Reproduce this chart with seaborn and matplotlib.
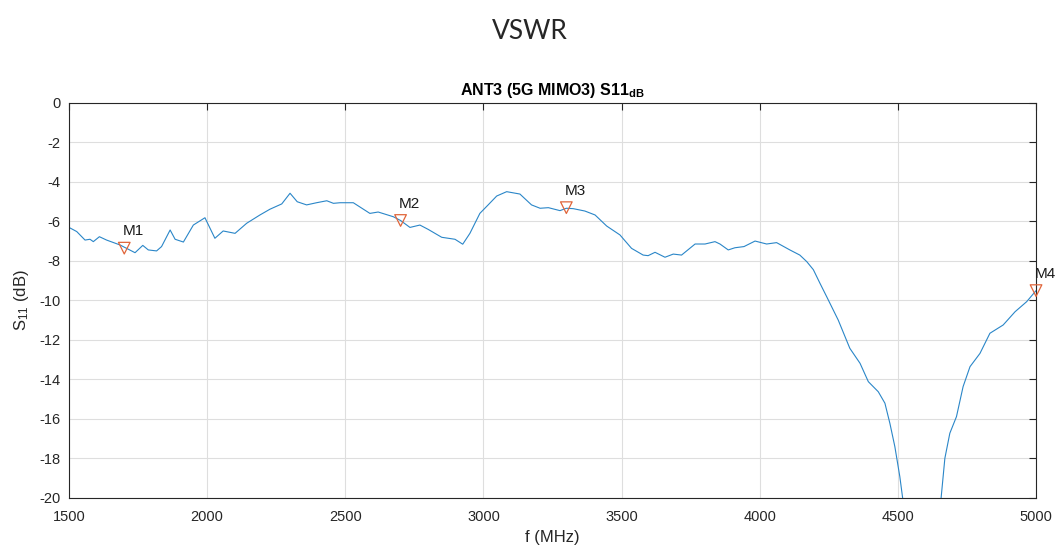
import matplotlib
matplotlib.use("Agg")
import pandas as pd
import seaborn as sns
import matplotlib.pyplot as plt

# S11 trace (MHz, dB)
freq = [1500, 1528, 1558, 1576, 1588, 1610, 1636, 1685, 1700, 1739, 1767, 1787,
        1817, 1835, 1866, 1884, 1914, 1950, 1992, 2028, 2058, 2101, 2143, 2191,
        2227, 2270, 2300, 2326, 2360, 2396, 2433, 2457, 2481, 2529, 2589, 2619,
        2674, 2700, 2734, 2770, 2800, 2849, 2897, 2925, 2951, 2987, 3017, 3048,
        3084, 3132, 3174, 3205, 3235, 3277, 3300, 3325, 3367, 3404, 3446, 3494,
        3536, 3578, 3596, 3621, 3657, 3687, 3717, 3766, 3802, 3838, 3856, 3886,
        3910, 3943, 3983, 4025, 4061, 4109, 4145, 4170, 4194, 4218, 4242, 4284,
        4326, 4363, 4393, 4429, 4453, 4471, 4489, 4507, 4520, 4560, 4590, 4620,
        4655, 4670, 4688, 4712, 4736, 4761, 4797, 4833, 4881, 4924, 4966, 5000]
s11 = [-6.3, -6.51, -6.94, -6.9, -7.02, -6.77, -6.94, -7.19, -7.3, -7.58, -7.21, -7.44,
       -7.49, -7.27, -6.43, -6.9, -7.04, -6.18, -5.81, -6.85, -6.48, -6.6, -6.09, -5.67,
       -5.38, -5.11, -4.57, -5.0, -5.16, -5.05, -4.95, -5.08, -5.05, -5.05, -5.59, -5.52,
       -5.76, -5.95, -6.3, -6.18, -6.4, -6.8, -6.9, -7.15, -6.6, -5.59, -5.16, -4.71,
       -4.49, -4.61, -5.16, -5.33, -5.3, -5.45, -5.33, -5.35, -5.47, -5.67, -6.23, -6.68,
       -7.36, -7.7, -7.73, -7.56, -7.81, -7.65, -7.7, -7.14, -7.14, -7.02, -7.14, -7.44,
       -7.33, -7.27, -6.99, -7.14, -7.07, -7.44, -7.7, -8.03, -8.44, -9.13, -9.8, -10.99,
       -12.42, -13.18, -14.11, -14.62, -15.2, -16.22, -17.4, -18.92, -20.3, -24.0, -27.0, -24.0,
       -20.2, -17.99, -16.72, -15.88, -14.36, -13.35, -12.68, -11.66, -11.24, -10.57, -10.06, -9.5]

marker_names = ["M1", "M2", "M3", "M4"]
marker_freq = [1700, 2700, 3300, 5000]
marker_s11 = [-7.35, -5.95, -5.3, -9.5]

x_ticks = [1500, 2000, 2500, 3000, 3500, 4000, 4500, 5000]
y_ticks = [0, -2, -4, -6, -8, -10, -12, -14, -16, -18, -20]

df = pd.DataFrame({"f": freq, "s11": s11})
markers = pd.DataFrame({"name": marker_names, "f": marker_freq, "s11": marker_s11})

sns.set_style("whitegrid")
plt.rcParams["font.family"] = ["Liberation Sans", "DejaVu Sans"]
plt.rcParams["axes.unicode_minus"] = False
plt.rcParams["mathtext.fontset"] = "custom"
plt.rcParams["mathtext.rm"] = "Liberation Sans"
plt.rcParams["mathtext.it"] = "Liberation Sans:italic"
plt.rcParams["mathtext.bf"] = "Liberation Sans:bold"

fig = plt.figure(figsize=(10.6, 5.49), dpi=100)
ax = fig.add_axes([0.0651, 0.0929, 0.9123, 0.7195])

sns.lineplot(data=df, x="f", y="s11", color="#2a86c8", linewidth=0.8, ax=ax)
sns.scatterplot(data=markers, x="f", y="s11", marker="v", s=70, color="#E0653A",
                facecolors="none", edgecolor="#E0653A", linewidth=0.9, ax=ax,
                clip_on=False, zorder=5)
for name, fx, fy in zip(marker_names, marker_freq, marker_s11):
    ax.annotate(name, (fx, fy), xytext=(-1, 7), textcoords="offset points",
                ha="left", va="bottom", fontsize=11, color="#1a1a1a",
                annotation_clip=False)

ax.set_xlim(1500, 5000)
ax.set_ylim(-20, 0)
ax.set_xticks(x_ticks)
ax.set_yticks(y_ticks)
ax.grid(True, color="#dedede", linewidth=0.8)
ax.tick_params(direction="in", length=5, width=0.8, colors="#262626",
               labelsize=10.5, top=True, right=True, labeltop=False, labelright=False)
ax.tick_params(axis="x", pad=9)
ax.tick_params(axis="y", pad=6)
for sp in ax.spines.values():
    sp.set_color("#262626")
    sp.set_linewidth(0.8)

ax.set_xlabel("f (MHz)", fontsize=12, color="#262626", labelpad=4)
ax.set_ylabel("S$_{11}$ (dB)", fontsize=12, color="#262626", labelpad=6)
ax.set_title(r"ANT3 (5G MIMO3) S11$_{\mathbf{dB}}$", fontsize=11.5,
             fontweight="bold", color="black", pad=6)
fig.suptitle("VSWR", y=0.965, fontsize=19, family=["Lato", "DejaVu Sans"])

fig.savefig("out.png", dpi=100)
